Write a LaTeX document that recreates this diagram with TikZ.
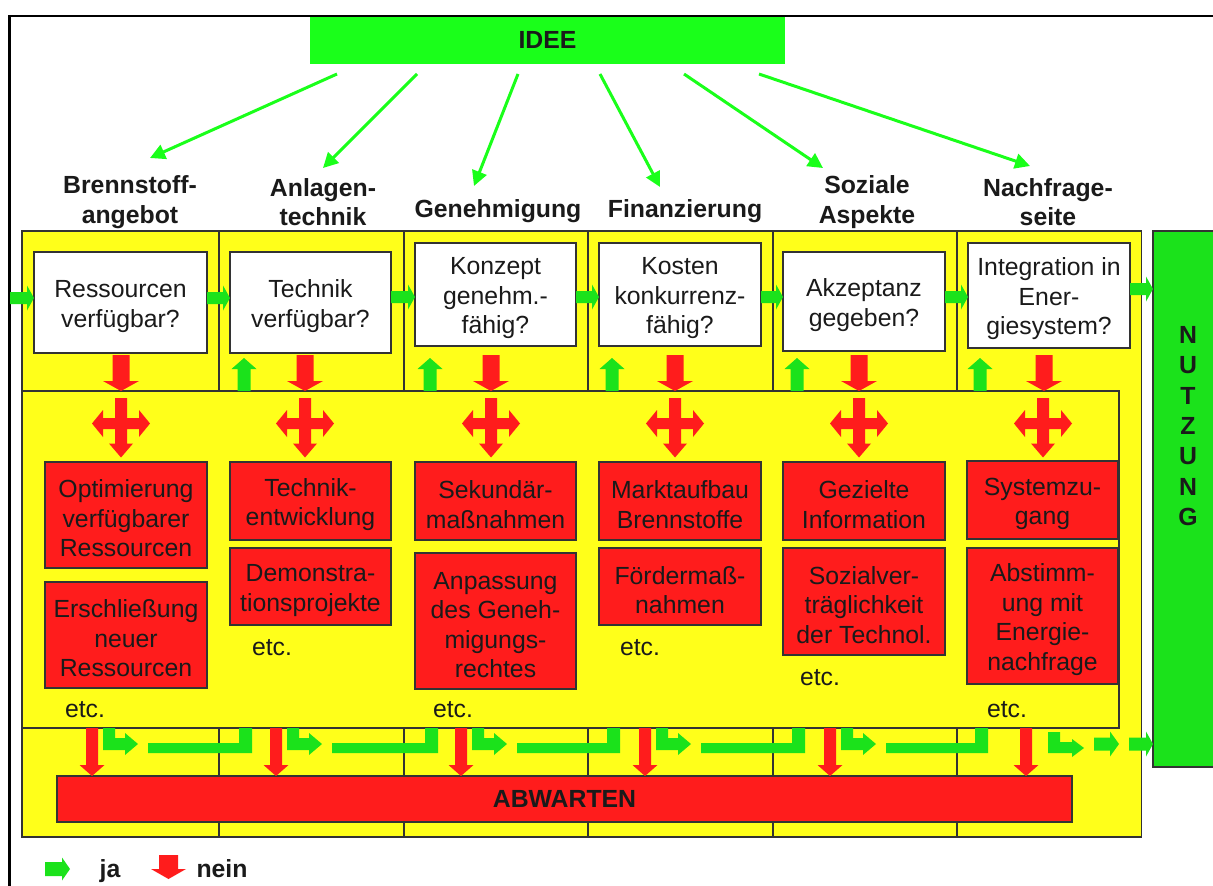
\documentclass[tikz,border=0pt]{standalone}
\usepackage{fontspec}
\setmainfont{Liberation Sans}
\usetikzlibrary{arrows.meta}
\definecolor{yel}{HTML}{FFFF1A}
\definecolor{idg}{HTML}{1AFF1A}
\definecolor{bgr}{HTML}{1BE21B}
\definecolor{rd}{HTML}{FF1C1C}
\definecolor{ln}{HTML}{333333}
\definecolor{tx}{HTML}{1A1A1A}
% strut that lowers box text slightly
\newcommand\fl{\rule{0pt}{25pt}}
% horizontal block arrow: fill, yc, x0, xbase, xtip, shaft half, head half
\newcommand\HArr[7]{\fill[#1] (#3,#2-#6) -- (#4,#2-#6) -- (#4,#2-#7) -- (#5,#2) -- (#4,#2+#7) -- (#4,#2+#6) -- (#3,#2+#6) -- cycle;}
% vertical block arrow: fill, xc, y0, ybase, ytip, shaft half, head half
\newcommand\VArr[7]{\fill[#1] (#2-#6,#3) -- (#2-#6,#4) -- (#2-#7,#4) -- (#2,#5) -- (#2+#7,#4) -- (#2+#6,#4) -- (#2+#6,#3) -- cycle;}
% three-way red arrow: xc, yc (arm centre)
\newcommand\TriArr[2]{\fill[rd] (#1-6,#2-25.5) -- (#1+6,#2-25.5) -- (#1+6,#2-5.5) -- (#1+18,#2-5.5) -- (#1+18,#2-13.5) -- (#1+29,#2) -- (#1+18,#2+13.5) -- (#1+18,#2+5.5) -- (#1+6,#2+5.5) -- (#1+6,#2+20) -- (#1+12,#2+20) -- (#1,#2+34) -- (#1-12,#2+20) -- (#1-6,#2+20) -- (#1-6,#2+5.5) -- (#1-18,#2+5.5) -- (#1-18,#2+13.5) -- (#1-29,#2) -- (#1-18,#2-13.5) -- (#1-18,#2-5.5) -- (#1-6,#2-5.5) -- cycle;}
% green L arrow below middle box: r (red arrow x)
\newcommand\GL[1]{\fill[bgr] (#1+11,728) -- (#1+23,728) -- (#1+23,738) -- (#1+33,738) -- (#1+33,733) -- (#1+46,744) -- (#1+33,755) -- (#1+33,750) -- (#1+11,750) -- cycle;}
% green bar to next column: r, u
\newcommand\GB[2]{\fill[bgr] (#1+56,743) -- (#2-5,743) -- (#2-5,728) -- (#2+8,728) -- (#2+8,753) -- (#1+56,753) -- cycle;}
\begin{document}
\begin{tikzpicture}[x=1pt,y=-1pt,
  txt/.style={font=\fontsize{24.8}{29.5}\selectfont, text=tx, align=center},
  hdr/.style={font=\fontsize{24.8}{29.5}\selectfont\bfseries, text=tx, align=center},
  qbox/.style={txt, draw=ln, line width=1.3pt, fill=white, inner sep=0pt},
  rbox/.style={txt, draw=ln, line width=1.3pt, fill=rd, inner sep=0pt},
  colbox/.style={draw=ln, line width=1.3pt, fill=yel},
  thinarr/.style={draw=idg, line width=3pt, -{Triangle[length=15pt,width=15pt]}},
  etc/.style={txt, anchor=base, inner sep=0pt}]
\useasboundingbox (0,0) rectangle (1213,886);
\fill[white] (0,0) rectangle (1213,886);

% IDEE
\node[fill=idg, minimum width=475pt, minimum height=48pt, inner sep=0pt, hdr] (idee) at (547.5,40) {IDEE};
% outer frame
\draw[line width=2.8pt, black] (9.5,900) -- (9.5,16) -- (1230,16);

% headers
\node[hdr] (h1) at (130,202) {Brennstoff-\\angebot};
\node[hdr] (h2) at (323,202) {Anlagen-\\technik};
\node[hdr] (h3) at (498,211) {Genehmigung};
\node[hdr] (h4) at (685,211) {Finanzierung};
\node[hdr] (h5) at (867,202) {Soziale\\Aspekte};
\node[hdr] (h6) at (1048,202) {Nachfrage-\\seite};

% thin arrows from IDEE
\coordinate (s1) at (337,74);  \coordinate (e1) at (150,158);
\coordinate (s2) at (417,74);  \coordinate (e2) at (323,168);
\coordinate (s3) at (518,74);  \coordinate (e3) at (474,186);
\coordinate (s4) at (600,74);  \coordinate (e4) at (660,187);
\coordinate (s5) at (684,74);  \coordinate (e5) at (823,168);
\coordinate (s6) at (759,74);  \coordinate (e6) at (1030,166);
\foreach \i in {1,...,6} {\draw[thinarr] (s\i) -- (e\i);}

% columns
\draw[colbox] (22,231) rectangle (219,837);
\draw[colbox] (219,231) rectangle (404,837);
\draw[colbox] (404,231) rectangle (588,837);
\draw[colbox] (588,231) rectangle (773,837);
\draw[colbox] (773,231) rectangle (957,837);
\draw[colbox] (957,231) rectangle (1141.5,837);
% middle box
\draw[colbox] (22.5,391) rectangle (1119,728);

% NUTZUNG
\draw[draw=ln, line width=1.3pt, fill=bgr] (1153,231) rectangle (1240,767);
\node[hdr, inner sep=0pt] (nutz) at (1188,426) {N\\[0.8pt]U\\[0.8pt]T\\[0.8pt]Z\\[0.8pt]U\\[0.8pt]N\\[0.8pt]G};

% question boxes
\node[qbox, minimum width=173pt, minimum height=101pt] (q1) at (120.5,302.5) {\fl Ressourcen\\verfügbar?};
\node[qbox, minimum width=161pt, minimum height=101pt] (q2) at (310.5,302.5) {\fl Technik\\verfügbar?};
\node[qbox, minimum width=161pt, minimum height=103pt] (q3) at (495.5,294.5) {\fl Konzept\\genehm.-\\fähig?};
\node[qbox, minimum width=162pt, minimum height=103pt] (q4) at (680,294.5) {\fl Kosten\\konkurrenz-\\fähig?};
\node[qbox, minimum width=162pt, minimum height=99pt] (q5) at (864,301.5) {\fl Akzeptanz\\gegeben?};
\node[qbox, minimum width=162pt, minimum height=105pt] (q6) at (1049,295.5) {\fl Integration in\\Ener-\\giesystem?};

% green arrows between question boxes
\HArr{bgr}{298}{10}{27}{34}{6}{12.5}
\HArr{bgr}{298}{207}{223}{230}{6}{12.5}
\HArr{bgr}{297}{391}{408}{415}{6}{12.5}
\HArr{bgr}{297}{576}{592}{599}{6}{12.5}
\HArr{bgr}{297}{761}{776}{783}{6}{12.5}
\HArr{bgr}{297}{945}{961}{968}{6}{12.5}
\HArr{bgr}{289}{1130}{1146}{1153}{6}{12.5}

% red arrows below question boxes
\foreach \x in {121,305,491,675,859,1044} {\VArr{rd}{\x}{355}{381}{391}{8.5}{18}}
% green up arrows
\foreach \x in {244,430,612,797,980} {\VArr{bgr}{\x}{391}{369}{358}{6.5}{12.5}}
% three-way red arrows
\foreach \x in {121,305,491,675,859,1043} {\TriArr{\x}{423.5}}

% red measure boxes
\node[rbox, minimum width=162pt, minimum height=106pt] (r1a) at (126,515) {\fl Optimierung\\verfügbarer\\Ressourcen};
\node[rbox, minimum width=162pt, minimum height=106pt] (r1b) at (126,635) {\fl Erschließung\\neuer\\Ressourcen};
\node[rbox, minimum width=161pt, minimum height=78pt] (r2a) at (310.5,501) {\fl Technik-\\entwicklung};
\node[rbox, minimum width=161pt, minimum height=77pt] (r2b) at (310.5,586.5) {\fl Demonstra-\\tionsprojekte};
\node[rbox, minimum width=161pt, minimum height=78pt] (r3a) at (495.5,501) {\fl Sekundär-\\maßnahmen};
\node[rbox, minimum width=161pt, minimum height=136pt] (r3b) at (495.5,621) {\fl Anpassung\\des Geneh-\\migungs-\\rechtes};
\node[rbox, minimum width=162pt, minimum height=78pt] (r4a) at (680,501) {\fl Marktaufbau\\Brennstoffe};
\node[rbox, minimum width=162pt, minimum height=77pt] (r4b) at (680,586.5) {\fl Fördermaß-\\nahmen};
\node[rbox, minimum width=162pt, minimum height=78pt] (r5a) at (864,501) {\fl Gezielte\\Information};
\node[rbox, minimum width=162pt, minimum height=107pt] (r5b) at (864,601.5) {\fl Sozialver-\\träglichkeit\\der Technol.};
\node[rbox, minimum width=151pt, minimum height=78pt] (r6a) at (1042.5,500) {\fl Systemzu-\\gang};
\node[rbox, minimum width=151pt, minimum height=136pt] (r6b) at (1042.5,616) {\fl Abstimm-\\ung mit\\Energie-\\nachfrage};

% etc.
\node[etc] (etc1) at (85,717) {etc.};
\node[etc] (etc2) at (272,655) {etc.};
\node[etc] (etc3) at (453,717) {etc.};
\node[etc] (etc4) at (640,655) {etc.};
\node[etc] (etc5) at (820,685) {etc.};
\node[etc] (etc6) at (1007,717) {etc.};

% ABWARTEN
\node[fill=rd, draw=ln, line width=1.3pt, inner sep=0pt, text=tx, minimum width=1015pt, minimum height=46pt, font=\fontsize{24.8}{29.5}\selectfont\bfseries] (abw) at (564.5,799) {ABWARTEN};

% red arrows down to ABWARTEN
\foreach \x in {92,276,461,645,830,1026} {\VArr{rd}{\x}{728}{765}{776}{6}{12.5}}

% green L arrows and bars below middle box
\GL{92}\GB{92}{244}
\GL{276}\GB{276}{430}
\GL{461}\GB{461}{612}
\GL{645}\GB{645}{797}
\GL{830}\GB{830}{980}
\fill[bgr] (1048,732) -- (1060,732) -- (1060,742) -- (1072,742) -- (1072,739) -- (1084,748) -- (1072,757) -- (1072,753) -- (1048,753) -- cycle;
\HArr{bgr}{744}{1094}{1110}{1119}{6.5}{12.5}
\HArr{bgr}{744}{1129}{1146}{1153}{6.5}{12.5}

% legend
\HArr{bgr}{869}{45}{62}{70}{7}{11.5}
\node[hdr, anchor=base, inner sep=0pt] (ja) at (110,877) {ja};
\VArr{rd}{168.5}{855}{869}{879}{9.5}{17.5}
\node[hdr, anchor=base, inner sep=0pt] (nein) at (222,877) {nein};
\end{tikzpicture}
\end{document}
